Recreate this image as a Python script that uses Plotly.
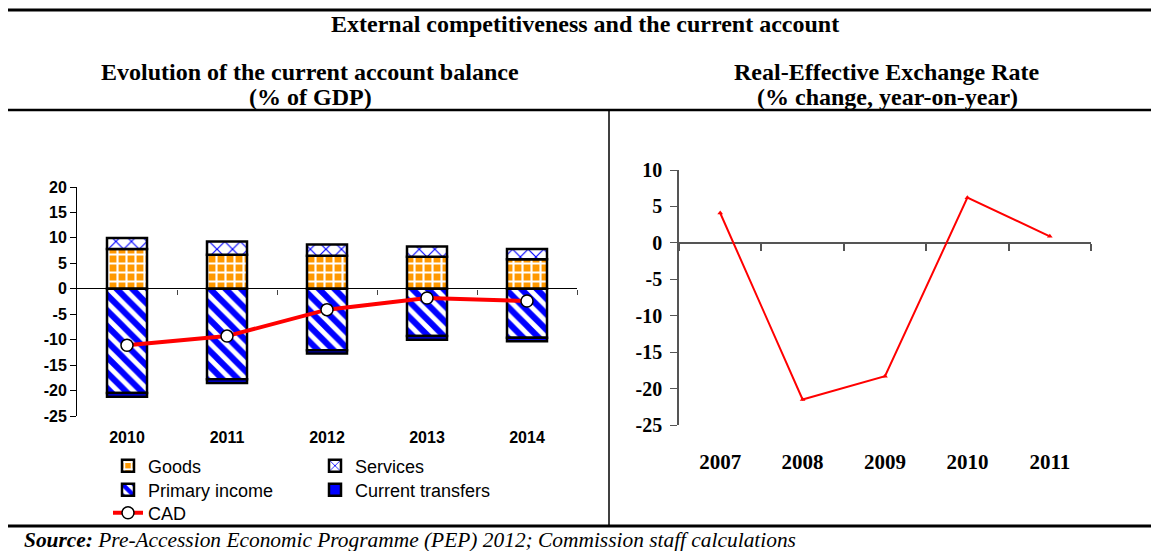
import plotly.graph_objects as go

# ---- data -------------------------------------------------------------
years_ca = ["2010", "2011", "2012", "2013", "2014"]
goods = [7.8, 6.7, 6.5, 6.3, 5.8]
services = [2.2, 2.6, 2.2, 2.0, 2.0]
primary_income = [-20.5, -17.8, -12.1, -9.3, -9.6]
current_transfers = [-0.7, -0.7, -0.6, -0.7, -0.7]
cad = [-11.1, -9.3, -4.1, -1.8, -2.4]

years_reer = ["2007", "2008", "2009", "2010", "2011"]
reer = [4.1, -21.5, -18.3, 6.2, 0.9]

ca_ticks = [20, 15, 10, 5, 0, -5, -10, -15, -20, -25]
reer_ticks = [10, 5, 0, -5, -10, -15, -20, -25]

# ---- page geometry (pixels) ------------------------------------------
W, H = 1151, 551


def px_x(x):
    return x / W


def px_y(y):
    return 1 - y / H


SERIF = "Times New Roman, Liberation Serif, serif"
SANS = "Arial, Liberation Sans, sans-serif"

left_dom_x = [px_x(77), px_x(577)]
left_dom_y = [px_y(416), px_y(187)]
right_dom_x = [px_x(679), px_x(1091)]
right_dom_y = [px_y(425), px_y(170)]
left_range = [-25, 20]
right_range = [-25, 10]


def zero_pos(dom, rng):
    return dom[0] + (0 - rng[0]) / (rng[1] - rng[0]) * (dom[1] - dom[0])


def hyphen_labels(vals):
    # bold labels with a plain hyphen for negatives
    return ["<b>%d</b>" % v for v in vals]


fig = go.Figure()

bar_line = dict(color="black", width=2.5)

fig.add_trace(go.Bar(
    x=years_ca, y=goods, name="Goods", legend="legend",
    marker=dict(color="#FF9900", line=bar_line,
                pattern=dict(shape="+", fgcolor="white", bgcolor="#FF9900",
                             fgopacity=1, size=9, solidity=0.42)),
    width=0.4, xaxis="x", yaxis="y"))
fig.add_trace(go.Bar(
    x=years_ca, y=services, name="Services", legend="legend2",
    marker=dict(color="white", line=bar_line,
                pattern=dict(shape="x", fgcolor="#0000FF", bgcolor="white",
                             fgopacity=1, size=11, solidity=0.2)),
    width=0.4, xaxis="x", yaxis="y"))
fig.add_trace(go.Bar(
    x=years_ca, y=primary_income, name="Primary income", legend="legend3",
    marker=dict(color="white", line=bar_line,
                pattern=dict(shape="\\", fgcolor="#0000FF", bgcolor="white",
                             fgopacity=1, size=11, solidity=0.55)),
    width=0.4, xaxis="x", yaxis="y"))
fig.add_trace(go.Bar(
    x=years_ca, y=current_transfers, name="Current transfers", legend="legend4",
    marker=dict(color="#0000FF", line=bar_line),
    width=0.4, xaxis="x", yaxis="y"))
fig.add_trace(go.Scatter(
    x=years_ca, y=cad, name="CAD", legend="legend5", mode="lines+markers",
    line=dict(color="#FF0000", width=4),
    marker=dict(symbol="circle", size=12, color="white",
                line=dict(color="black", width=1.5)),
    xaxis="x", yaxis="y"))

# boundary-tick axes sit on the zero lines; they need a trace to exist
fig.add_trace(go.Scatter(x=[None], y=[None], xaxis="x3", yaxis="y",
                         showlegend=False, hoverinfo="skip"))
fig.add_trace(go.Scatter(x=[None], y=[None], xaxis="x4", yaxis="y2",
                         showlegend=False, hoverinfo="skip"))

fig.add_trace(go.Scatter(
    x=years_reer, y=reer, mode="lines+markers", showlegend=False,
    line=dict(color="#FF0000", width=2),
    marker=dict(symbol="triangle-up", size=5, color="#FF0000"),
    xaxis="x2", yaxis="y2"))

fig.update_layout(
    width=W, height=H,
    margin=dict(l=0, r=0, t=0, b=0, autoexpand=False),
    paper_bgcolor="white", plot_bgcolor="white",
    barmode="relative",
    showlegend=True,
    xaxis=dict(domain=left_dom_x, anchor="y", type="category",
               range=[-0.5, 4.5], showline=False, showgrid=False,
               zeroline=False, ticks="", ticklabelstandoff=10,
               automargin=False,
               tickfont=dict(family=SANS, size=16, color="black",
                             weight="bold")),
    yaxis=dict(domain=left_dom_y, anchor="x", range=left_range,
               tickvals=ca_ticks, ticktext=hyphen_labels(ca_ticks),
               showgrid=False, automargin=False,
               showline=True, linecolor="black", linewidth=1,
               ticks="outside", ticklen=6, tickcolor="black",
               zeroline=True, zerolinecolor="black", zerolinewidth=1,
               tickfont=dict(family=SANS, size=16, color="black",
                             weight="bold")),
    xaxis3=dict(overlaying="x", anchor="free",
                position=zero_pos(left_dom_y, left_range),
                range=[-0.5, 4.5], type="linear", automargin=False,
                tickvals=[0.5, 1.5, 2.5, 3.5, 4.5], showticklabels=False,
                ticks="outside", ticklen=5, tickcolor="#444",
                showline=False, showgrid=False, zeroline=False),
    xaxis2=dict(domain=right_dom_x, anchor="y2", type="category",
                range=[-0.5, 4.5], showline=False, showgrid=False,
                zeroline=False, ticks="", ticklabelstandoff=22,
                automargin=False,
                tickfont=dict(family=SERIF, size=21, color="black",
                              weight="bold")),
    yaxis2=dict(domain=right_dom_y, anchor="x2", range=right_range,
                tickvals=reer_ticks, ticktext=hyphen_labels(reer_ticks),
                showgrid=False, automargin=False,
                showline=True, linecolor="#555", linewidth=1.5,
                ticks="outside", ticklen=7, tickcolor="#555",
                zeroline=True, zerolinecolor="#555", zerolinewidth=1.5,
                ticklabelstandoff=4,
                tickfont=dict(family=SERIF, size=20, color="black",
                              weight="bold")),
    xaxis4=dict(overlaying="x2", anchor="free",
                position=zero_pos(right_dom_y, right_range),
                range=[-0.5, 4.5], type="linear", automargin=False,
                tickvals=[-0.5, 0.5, 1.5, 2.5, 3.5, 4.5],
                showticklabels=False, ticks="outside", ticklen=7,
                tickcolor="#555", tickwidth=1.5,
                showline=False, showgrid=False, zeroline=False),
)

legend_font = dict(family=SANS, size=18, color="black")
legend_spots = {
    "legend": (108, 466),
    "legend2": (315, 466),
    "legend3": (108, 490),
    "legend4": (315, 490),
    "legend5": (108, 513),
}
for key, (lx, ly) in legend_spots.items():
    fig.update_layout({key: dict(x=px_x(lx), y=px_y(ly), xanchor="left",
                                 yanchor="middle", orientation="h",
                                 bgcolor="rgba(0,0,0,0)", borderwidth=0,
                                 font=legend_font, itemclick=False,
                                 itemdoubleclick=False)})

# ---- frame lines ------------------------------------------------------
frame = [
    dict(x0=px_x(8), x1=1, y0=px_y(10), y1=px_y(10), w=3),
    dict(x0=px_x(8), x1=1, y0=px_y(110), y1=px_y(110), w=2.5),
    dict(x0=px_x(8), x1=1, y0=px_y(526), y1=px_y(526), w=3),
    dict(x0=px_x(609), x1=px_x(609), y0=px_y(110), y1=px_y(526), w=1.5),
]
for s in frame:
    fig.add_shape(type="line", xref="paper", yref="paper",
                  x0=s["x0"], x1=s["x1"], y0=s["y0"], y1=s["y1"],
                  line=dict(color="black", width=s["w"]))

# ---- titles -------------------------------------------------------------
texts = [
    ("<b>External competitiveness and the current account</b>", 585, 24),
    ("<b>Evolution of the current account balance</b>", 310, 72),
    ("<b>(% of GDP)</b>", 310, 97),
    ("<b>Real-Effective Exchange Rate</b>", 887, 72),
    ("<b>(% change, year-on-year)</b>", 887, 97),
]
for txt, tx, ty in texts:
    fig.add_annotation(text=txt, x=px_x(tx), y=px_y(ty), xref="paper",
                       yref="paper", xanchor="center", yanchor="middle",
                       showarrow=False,
                       font=dict(family=SERIF, size=24, color="black"))

fig.add_annotation(
    text="<b><i>Source:</i></b><i> Pre-Accession Economic Programme (PEP) 2012; "
         "Commission staff calculations</i>",
    x=px_x(22), y=px_y(540), xref="paper", yref="paper", xanchor="left",
    yanchor="middle", showarrow=False,
    font=dict(family=SERIF, size=21.4, color="black"))

fig.write_html("out.html", config={"displayModeBar": False},
               post_script="document.body.style.margin='0';"
                           "document.body.style.overflow='hidden';")
